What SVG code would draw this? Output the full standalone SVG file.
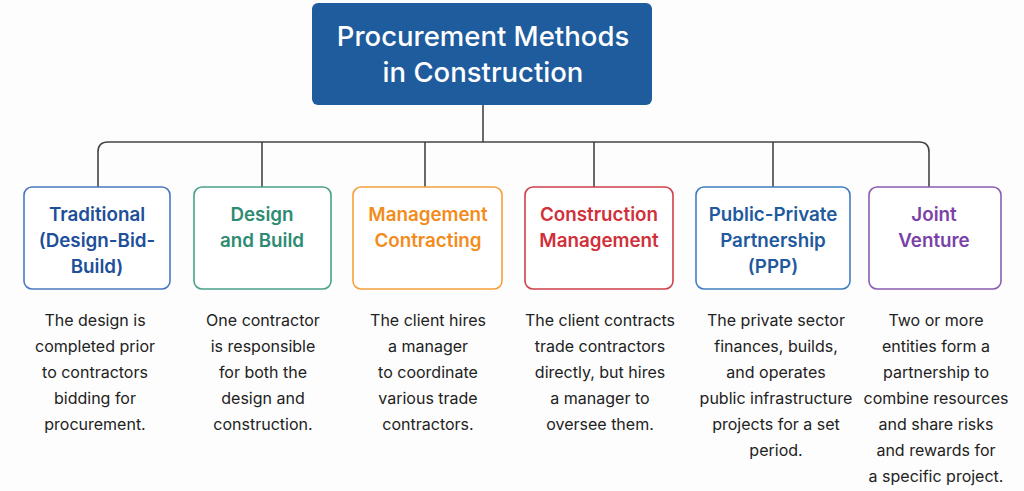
<svg xmlns="http://www.w3.org/2000/svg" width="1024" height="491" viewBox="0 0 1024 491">
<style>
.bg{fill:#fdfdfd}
.box{fill:#ffffff;stroke-width:1.6}
.ttl{font-family:Inter,"Noto Sans","Liberation Sans",sans-serif;font-size:27.5px;font-weight:500;fill:#ffffff;text-anchor:middle}
.nt{font-family:Inter,"Noto Sans","Liberation Sans",sans-serif;font-size:18.8px;font-weight:600;text-anchor:middle}
.desc{font-family:Inter,"Noto Sans","Liberation Sans",sans-serif;font-size:16px;fill:#222222;text-anchor:middle}
.conn{fill:none;stroke:#444444;stroke-width:1.6}
</style>
<rect class="bg" x="0" y="0" width="1024" height="491"/>
<g id="connectors">
<path class="conn" d="M483 105 V142"/>
<path class="conn" d="M98 187 V152 Q98 142 108 142 H919 Q929 142 929 152 V187"/>
<path class="conn" d="M262 142 V187"/>
<path class="conn" d="M425 142 V187"/>
<path class="conn" d="M594 142 V187"/>
<path class="conn" d="M773 142 V187"/>
</g>
<g id="root">
<rect x="312" y="3" width="340" height="102" rx="6" fill="#1f5c9e"/>
<text class="ttl" x="483" y="46">Procurement Methods</text>
<text class="ttl" x="483" y="82">in Construction</text>
</g>
<g id="traditional">
<rect class="box" x="24" y="187" width="146" height="102" rx="8" stroke="#4a78c0"/>
<text class="nt" fill="#1d4f9a"><tspan x="97" y="221">Traditional</tspan><tspan x="97" y="247">(Design-Bid-</tspan><tspan x="97" y="273">Build)</tspan></text>
<text class="desc"><tspan x="95" y="326">The design is</tspan><tspan x="95" y="352">completed prior</tspan><tspan x="95" y="378">to contractors</tspan><tspan x="95" y="404">bidding for</tspan><tspan x="95" y="430">procurement.</tspan></text>
</g>
<g id="design-build">
<rect class="box" x="194" y="187" width="137" height="102" rx="8" stroke="#4aa08a"/>
<text class="nt" fill="#2e8b72"><tspan x="262" y="221">Design</tspan><tspan x="262" y="247">and Build</tspan></text>
<text class="desc"><tspan x="263" y="326">One contractor</tspan><tspan x="263" y="352">is responsible</tspan><tspan x="263" y="378">for both the</tspan><tspan x="263" y="404">design and</tspan><tspan x="263" y="430">construction.</tspan></text>
</g>
<g id="management-contracting">
<rect class="box" x="353" y="187" width="149" height="102" rx="8" stroke="#f5a03c"/>
<text class="nt" fill="#f28c1c"><tspan x="428" y="221">Management</tspan><tspan x="428" y="247">Contracting</tspan></text>
<text class="desc"><tspan x="428" y="326">The client hires</tspan><tspan x="428" y="352">a manager</tspan><tspan x="428" y="378">to coordinate</tspan><tspan x="428" y="404">various trade</tspan><tspan x="428" y="430">contractors.</tspan></text>
</g>
<g id="construction-management">
<rect class="box" x="525" y="187" width="148" height="102" rx="8" stroke="#d0404a"/>
<text class="nt" fill="#d0303a"><tspan x="599" y="221">Construction</tspan><tspan x="599" y="247">Management</tspan></text>
<text class="desc"><tspan x="600" y="326">The client contracts</tspan><tspan x="600" y="352">trade contractors</tspan><tspan x="600" y="378">directly, but hires</tspan><tspan x="600" y="404">a manager to</tspan><tspan x="600" y="430">oversee them.</tspan></text>
</g>
<g id="ppp">
<rect class="box" x="696" y="187" width="154" height="102" rx="8" stroke="#3f7fc0"/>
<text class="nt" fill="#1f5a9e"><tspan x="773" y="221">Public-Private</tspan><tspan x="773" y="247">Partnership</tspan><tspan x="773" y="273">(PPP)</tspan></text>
<text class="desc"><tspan x="776" y="326">The private sector</tspan><tspan x="776" y="352">finances, builds,</tspan><tspan x="776" y="378">and operates</tspan><tspan x="776" y="404">public infrastructure</tspan><tspan x="776" y="430">projects for a set</tspan><tspan x="776" y="456">period.</tspan></text>
</g>
<g id="joint-venture">
<rect class="box" x="869" y="187" width="132" height="102" rx="8" stroke="#8a5cb0"/>
<text class="nt" fill="#7a42a8"><tspan x="934" y="221">Joint</tspan><tspan x="934" y="247">Venture</tspan></text>
<text class="desc"><tspan x="936" y="326">Two or more</tspan><tspan x="936" y="352">entities form a</tspan><tspan x="936" y="378">partnership to</tspan><tspan x="936" y="404">combine resources</tspan><tspan x="936" y="430">and share risks</tspan><tspan x="936" y="456">and rewards for</tspan><tspan x="936" y="482">a specific project.</tspan></text>
</g>
</svg>
